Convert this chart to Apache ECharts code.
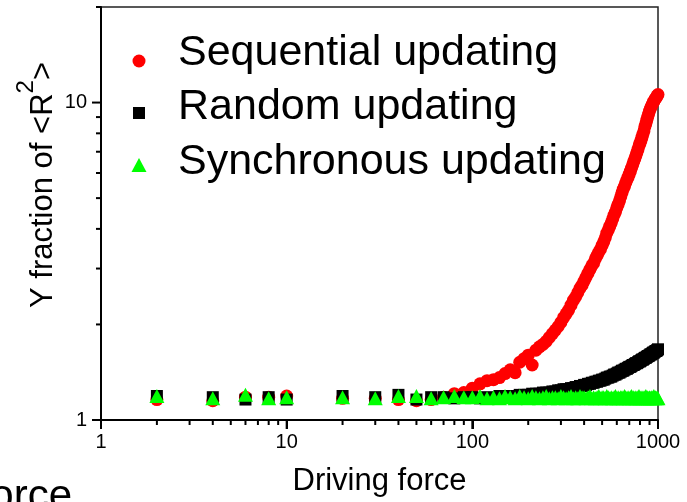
<!DOCTYPE html>
<html>
<head>
<meta charset="utf-8">
<script src="https://cdn.jsdelivr.net/npm/echarts@6/dist/echarts.min.js"></script>
<style>
  html, body { margin: 0; padding: 0; background: #fff; }
  #chart { width: 687px; height: 502px; }
</style>
</head>
<body>
<div id="chart"></div>
<script>
// Driving force (x) shared by all three update schemes
const drivingForce = [
  2, 4, 6, 8, 10, 20, 30, 40, 50, 60, 70, 80, 90,
  100, 110, 120, 130, 140, 150, 160, 170, 180, 190,
  200, 210, 220, 230, 240, 250, 260, 270, 280, 290,
  300, 310, 320, 330, 340, 350, 360, 370, 380, 390,
  400, 410, 420, 430, 440, 450, 460, 470, 480, 490,
  500, 510, 520, 530, 540, 550, 560, 570, 580, 590,
  600, 610, 620, 630, 640, 650, 660, 670, 680, 690,
  700, 710, 720, 730, 740, 750, 760, 770, 780, 790,
  800, 810, 820, 830, 840, 850, 860, 870, 880, 890,
  900, 910, 920, 930, 940, 950, 960, 970, 980, 990, 1000
];

// Y fraction of <R^2> for each scheme
const sequential = [
  1.16, 1.15, 1.18, 1.18, 1.19, 1.17, 1.17, 1.16, 1.15, 1.16, 1.18, 1.21, 1.22,
  1.26, 1.30, 1.33, 1.34, 1.36, 1.40, 1.44, 1.41, 1.52, 1.56,
  1.60, 1.49, 1.66, 1.70, 1.73, 1.77, 1.82, 1.87, 1.92, 1.97,
  2.03, 2.10, 2.16, 2.22, 2.30, 2.38, 2.44, 2.52, 2.60, 2.66,
  2.74, 2.82, 2.90, 2.98, 3.06, 3.12, 3.22, 3.30, 3.38, 3.45,
  3.55, 3.64, 3.75, 3.88, 3.97, 4.08, 4.18, 4.30, 4.42, 4.52,
  4.66, 4.78, 4.90, 5.05, 5.20, 5.34, 5.45, 5.58, 5.70, 5.82,
  5.95, 6.08, 6.22, 6.36, 6.52, 6.65, 6.80, 6.96, 7.12, 7.30,
  7.45, 7.60, 7.78, 7.96, 8.14, 8.40, 8.58, 8.80, 9.00, 9.20,
  9.40, 9.58, 9.72, 9.86, 9.98, 10.1, 10.2, 10.3, 10.4, 10.5, 10.6
];

const random = [
  1.19, 1.18, 1.16, 1.18, 1.16, 1.19, 1.18, 1.20, 1.16, 1.18, 1.18, 1.17, 1.18,
  1.18, 1.17, 1.18, 1.17, 1.19, 1.18, 1.19, 1.19, 1.20, 1.20,
  1.20, 1.21, 1.21, 1.21, 1.22, 1.22, 1.22, 1.23, 1.23, 1.24,
  1.24, 1.25, 1.25, 1.25, 1.26, 1.26, 1.27, 1.27, 1.28, 1.28,
  1.29, 1.29, 1.30, 1.30, 1.31, 1.31, 1.32, 1.32, 1.33, 1.33,
  1.34, 1.34, 1.35, 1.36, 1.36, 1.37, 1.37, 1.38, 1.39, 1.39,
  1.40, 1.41, 1.41, 1.42, 1.43, 1.43, 1.44, 1.45, 1.45, 1.46,
  1.47, 1.47, 1.48, 1.49, 1.49, 1.50, 1.51, 1.51, 1.52, 1.53,
  1.53, 1.54, 1.55, 1.55, 1.56, 1.57, 1.57, 1.58, 1.59, 1.59,
  1.60, 1.61, 1.61, 1.62, 1.63, 1.63, 1.64, 1.65, 1.65, 1.66, 1.67
];

const synchronous = [
  1.19, 1.17, 1.20, 1.17, 1.18, 1.18, 1.17, 1.19, 1.19, 1.17, 1.18, 1.19, 1.18,
  1.18, 1.19, 1.17, 1.18, 1.17, 1.19, 1.18, 1.17, 1.19, 1.18,
  1.17, 1.19, 1.18, 1.17, 1.18, 1.19, 1.17, 1.18, 1.18, 1.17,
  1.19, 1.18, 1.17, 1.18, 1.19, 1.17, 1.18, 1.17, 1.19, 1.18,
  1.18, 1.17, 1.18, 1.19, 1.17, 1.18, 1.17, 1.18, 1.19, 1.17,
  1.18, 1.18, 1.17, 1.19, 1.18, 1.17, 1.18, 1.17, 1.18, 1.19,
  1.17, 1.18, 1.17, 1.18, 1.18, 1.17, 1.19, 1.18, 1.17, 1.18,
  1.17, 1.18, 1.19, 1.17, 1.18, 1.17, 1.18, 1.17, 1.18, 1.19,
  1.17, 1.18, 1.17, 1.18, 1.17, 1.18, 1.19, 1.17, 1.18, 1.17,
  1.18, 1.17, 1.18, 1.17, 1.18, 1.19, 1.17, 1.18, 1.17, 1.18, 1.17
];

const seriesNames = ['Sequential updating', 'Random updating', 'Synchronous updating'];
const xMajorTicks = [1, 10, 100, 1000];
const xMinorTicks = [2, 3, 4, 5, 6, 7, 8, 9, 20, 30, 40, 50, 60, 70, 80, 90, 200, 300, 400, 500, 600, 700, 800, 900];
const yMajorTicks = [1, 10];
const yMinorTicks = [2, 3, 4, 5, 6, 7, 8, 9, 20];
const xRange = [1, 1000];
const yRange = [1, 20];

const FONT = '"Liberation Sans", Arial, sans-serif';
const MAJOR_LEN = 9;
const MINOR_LEN = 5;
const TICK_W = 2;
const pairs = (ys) => drivingForce.map((x, i) => [x, ys[i]]);
const isPow10 = (v) => Math.abs(Math.log10(v) - Math.round(Math.log10(v))) < 1e-6;

const markerShapes = [
  { type: 'circle', shape: { cx: 139, cy: 61, r: 6.5 }, style: { fill: '#ff0000' } },
  { type: 'rect', shape: { x: 133, y: 107, width: 12, height: 12 }, style: { fill: '#000000' } },
  { type: 'polygon', shape: { points: [[131.5, 172], [146.5, 172], [139, 158]] }, style: { fill: '#00ff00' } }
];
const legendTextY = [53, 107, 162];
const legendGraphics = [];
seriesNames.forEach((name, i) => {
  legendGraphics.push(markerShapes[i]);
  legendGraphics.push({
    type: 'text', x: 178, y: legendTextY[i],
    style: { text: name, font: '43px ' + FONT, fill: '#000', align: 'left', verticalAlign: 'middle' }
  });
});

const titleGraphics = [
  // vertical axis title with superscript
  {
    type: 'text', x: 43, y: 185, rotation: Math.PI / 2,
    style: {
      text: '{a|Y fraction of <R}{s|2}{a|>}',
      align: 'center', verticalAlign: 'middle', fill: '#000',
      rich: {
        a: { fontSize: 31, lineHeight: 57, fontFamily: FONT, fill: '#000' },
        s: { fontSize: 24, lineHeight: 24, fontFamily: FONT, fill: '#000', verticalAlign: 'top' }
      }
    }
  },
  // neighbouring panel's axis title, running off the left edge
  {
    type: 'text', x: 72, y: 497,
    style: { text: 'Driving force', font: '42px ' + FONT, fill: '#000', align: 'right', verticalAlign: 'middle' }
  }
];

// Outward tick marks: thin bars placed on the log axes by the scatter layout, offset outside the plot.
function tickSeries(points, size, offset) {
  return {
    type: 'scatter', silent: true, clip: false, z: 10,
    symbol: 'rect', symbolSize: size, symbolOffset: offset,
    itemStyle: { color: '#000000', opacity: 1 },
    emphasis: { disabled: true },
    data: points
  };
}

const chart = echarts.init(document.getElementById('chart'), null, { renderer: 'canvas' });

const option = {
  animation: false,
  backgroundColor: '#ffffff',
  grid: {
    left: 101, right: 29, top: 7, bottom: 81,
    show: true, borderColor: '#222', borderWidth: 1.5, backgroundColor: 'transparent'
  },
  xAxis: {
    type: 'log', logBase: 10, min: xRange[0], max: xRange[1], position: 'bottom',
    splitLine: { show: false },
    axisLine: { show: true, lineStyle: { color: '#000', width: 2 } },
    axisTick: { show: true, inside: false, length: MAJOR_LEN, lineStyle: { color: '#000', width: TICK_W } },
    axisLabel: {
      show: true, margin: 12, color: '#000', fontSize: 20, fontFamily: FONT,
      formatter: (v) => (isPow10(v) ? String(Math.round(v)) : '')
    },
    name: 'Driving force', nameLocation: 'middle', nameGap: 46,
    nameTextStyle: { color: '#000', fontSize: 31, fontFamily: FONT }
  },
  yAxis: {
    type: 'log', logBase: 10, min: yRange[0], max: yRange[1], position: 'left',
    splitLine: { show: false },
    axisLine: { show: true, lineStyle: { color: '#000', width: 2 } },
    axisTick: { show: false },
    axisLabel: {
      show: true, margin: 14, color: '#000', fontSize: 20, fontFamily: FONT, showMaxLabel: false,
      formatter: (v) => (isPow10(v) ? String(Math.round(v)) : '')
    }
  },
  series: [
    {
      name: seriesNames[0], type: 'scatter',
      symbol: 'circle', symbolSize: 13, itemStyle: { color: '#ff0000', opacity: 1 },
      data: pairs(sequential), z: 2
    },
    {
      name: seriesNames[1], type: 'scatter',
      symbol: 'rect', symbolSize: 12, itemStyle: { color: '#000000', opacity: 1 },
      data: pairs(random), z: 3
    },
    {
      name: seriesNames[2], type: 'scatter',
      symbol: 'triangle', symbolSize: [15, 14], itemStyle: { color: '#00ff00', opacity: 1 },
      data: pairs(synchronous), z: 4
    },
    tickSeries(xMajorTicks.map((v) => [v, yRange[0]]), [TICK_W, MAJOR_LEN], [0, MAJOR_LEN / 2]),
    tickSeries(xMinorTicks.map((v) => [v, yRange[0]]), [TICK_W, MINOR_LEN], [0, MINOR_LEN / 2]),
    tickSeries(yMajorTicks.map((v) => [xRange[0], v]), [MAJOR_LEN, TICK_W], [-MAJOR_LEN / 2, 0]),
    tickSeries(yMinorTicks.map((v) => [xRange[0], v]), [MINOR_LEN, TICK_W], [-MINOR_LEN / 2, 0])
  ],
  graphic: titleGraphics.concat(legendGraphics)
};

chart.setOption(option);
</script>
</body>
</html>
